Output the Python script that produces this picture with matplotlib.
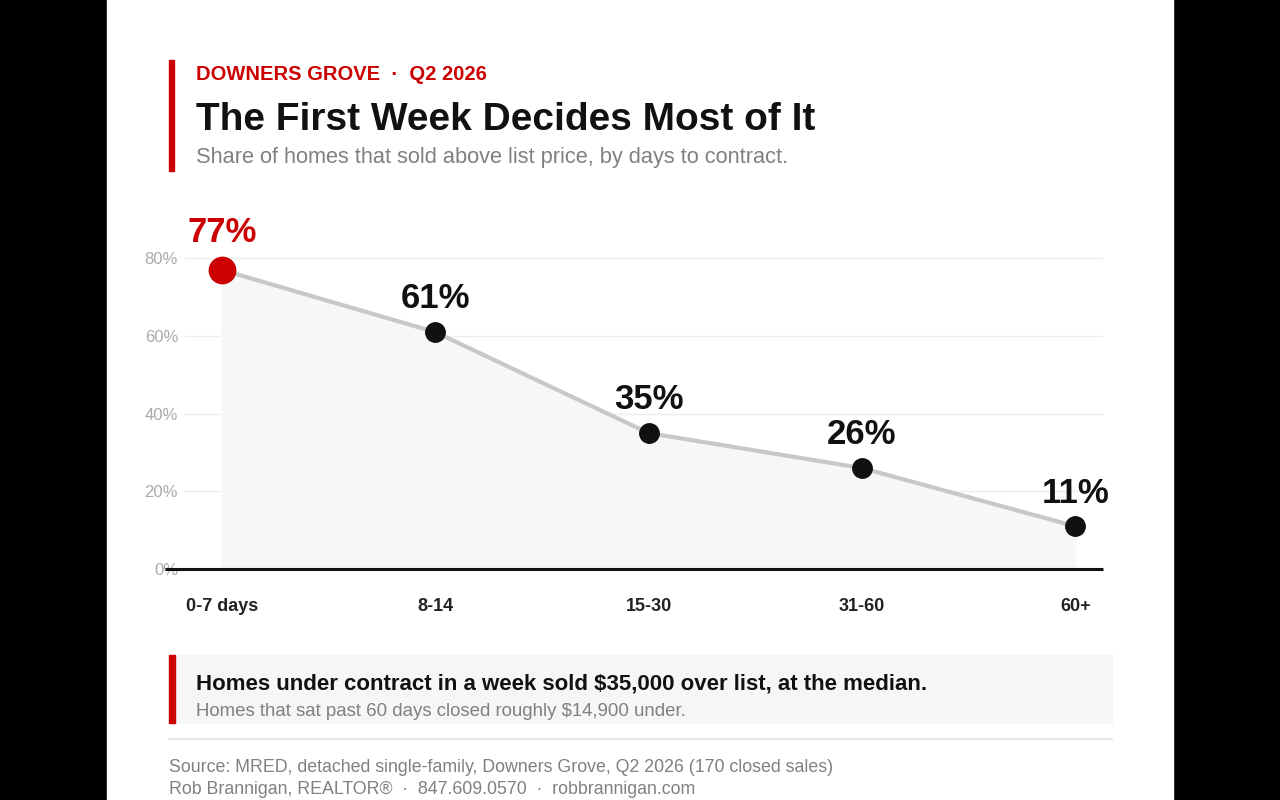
import matplotlib
matplotlib.use("Agg")
import matplotlib.pyplot as plt
from matplotlib.patches import Rectangle

categories = ["0-7 days", "8-14", "15-30", "31-60", "60+"]
values = [77, 61, 35, 26, 11]
yticks = [0, 20, 40, 60, 80]

plt.rcParams['font.family'] = ['Liberation Sans', 'DejaVu Sans']
W, H = 1280, 800
fig = plt.figure(figsize=(12.8, 8), dpi=100, facecolor='black')
def fx(x): return x / W
def fy(y): return 1 - y / H

fig.patches.append(Rectangle((fx(107), 0), fx(1173) - fx(107), 1, transform=fig.transFigure, color='white', zorder=-10))
RED = '#cc0000'
fig.patches.append(Rectangle((fx(169), fy(171)), fx(5), fy(60) - fy(171), transform=fig.transFigure, color=RED, zorder=1))
fig.text(fx(196), fy(75), "DOWNERS GROVE  ·  Q2 2026", color=RED, fontsize=14.5, fontweight='bold', va='center')
fig.text(fx(196), fy(120), "The First Week Decides Most of It", color='#111111', fontsize=28, fontweight='bold', va='center')
fig.text(fx(196), fy(158), "Share of homes that sold above list price, by days to contract.", color='#808080', fontsize=15.7, va='center')

ax = fig.add_axes([fx(160), fy(569), fx(1103) - fx(160), fy(200) - fy(569)])
ax.set_zorder(5)
ax.set_facecolor('none')
x = list(range(len(values)))
ax.set_xlim(-0.29, 4.13)
ax.set_ylim(0, 95)
ax.fill_between(x, values, 0, color='#f7f7f7', zorder=1)
for t in yticks[1:]:
    ax.axhline(t, xmin=0.027, color='#eeeeee', lw=1, zorder=0)
ax.plot(x, values, color='#c8c8c8', lw=3, zorder=2)
for i, v in enumerate(values):
    c = RED if i == 0 else '#111111'
    s = 19 if i == 0 else 14
    ax.plot(i, v, 'o', color=c, ms=s, zorder=3)
    ax.annotate(f"{v}%", (i, v), xytext=(0, 12 if i else 15), textcoords='offset points',
                ha='center', va='bottom', fontsize=25, fontweight='bold', color=c)
ax.plot([0.005, 1], [0, 0], transform=ax.transAxes, color='#111111', lw=2.2, zorder=4, clip_on=False, solid_capstyle='butt')
for sp in ax.spines.values():
    sp.set_visible(False)
ax.set_yticks(yticks)
ax.set_yticklabels([f"{t}%" for t in yticks], color='#aaaaaa', fontsize=12)
ax.tick_params(axis='y', length=0, pad=-13)
for lab in ax.get_yticklabels():
    lab.set_ha('right')
ax.set_xticks(x)
ax.set_xticklabels(categories, fontsize=13, fontweight='bold', color='#222222')
ax.tick_params(axis='x', length=0, pad=21)

fig.patches.append(Rectangle((fx(169), fy(723)), fx(1112) - fx(169), fy(655) - fy(723), transform=fig.transFigure, color='#f6f6f6', zorder=1))
fig.patches.append(Rectangle((fx(169), fy(723)), fx(6), fy(655) - fy(723), transform=fig.transFigure, color=RED, zorder=2))
fig.text(fx(196), fy(684), "Homes under contract in a week sold $35,000 over list, at the median.", color='#111111', fontsize=16, fontweight='bold', va='center')
fig.text(fx(196), fy(711), "Homes that sat past 60 days closed roughly $14,900 under.", color='#808080', fontsize=13.4, va='center')
fig.lines.append(plt.Line2D([fx(169), fx(1112)], [fy(739), fy(739)], transform=fig.transFigure, color='#e5e5e5', lw=1.5))
fig.text(fx(169), fy(767), "Source: MRED, detached single-family, Downers Grove, Q2 2026 (170 closed sales)", color='#808080', fontsize=12.75, va='center')
fig.text(fx(169), fy(790), "Rob Brannigan, REALTOR®  ·  847.609.0570  ·  robbrannigan.com", color='#808080', fontsize=12.75, va='center')
fig.savefig("out.png", dpi=100, facecolor='black')
